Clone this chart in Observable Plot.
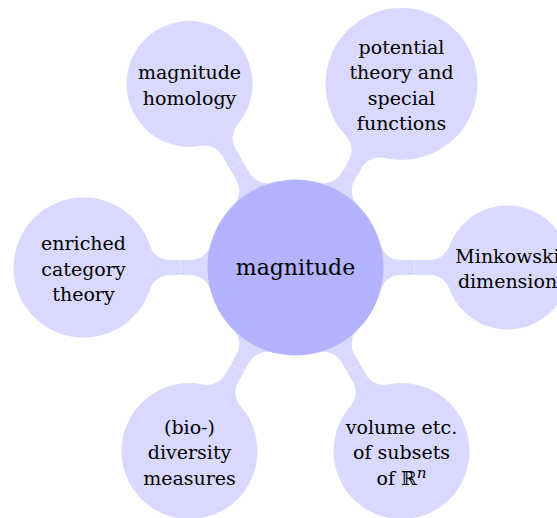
<!DOCTYPE html>
<html>
<head>
<meta charset="utf-8">
<script src="https://cdn.jsdelivr.net/npm/d3@7"></script>
<script src="https://cdn.jsdelivr.net/npm/@observablehq/plot@0.6"></script>
<style>
  html, body { margin: 0; padding: 0; background: #fff; }
  svg { display: block; }
</style>
</head>
<body>
<div id="chart"></div>
<script>
// ---- data ----
const rootLabel = "magnitude";
const childLabels = [
  "enriched\ncategory\ntheory",
  "magnitude\nhomology",
  "potential\ntheory and\nspecial\nfunctions",
  "Minkowski\ndimension",
  "volume etc.\nof subsets\nof ℝⁿ",
  "(bio-)\ndiversity\nmeasures"
];
const childAngles = [180, 120, 60, 0, -60, -120]; // degrees, counter-clockwise from east

// ---- layout (not data) ----
const W = 557, H = 518;
const layout = {cx: 295, cy: 267, dist: 212, rootR: 88,
  childR: [70, 63, 76, 62, 68, 68], barHalf: 7.5, fillet: 21};
const rootColor = "#b3b3ff";
const childColor = "#d9d9ff";

const root = {label: rootLabel, x: layout.cx, y: layout.cy, r: layout.rootR};
const children = childLabels.map((label, i) => {
  const a = childAngles[i] * Math.PI / 180;
  return {label, angle: a, i,
    x: layout.cx + layout.dist * Math.cos(a),
    y: layout.cy - layout.dist * Math.sin(a),
    r: layout.childR[i]};
});

// connector polygon between root and each child (concave fillets + bar)
function connector(ch) {
  const A = [root.x, root.y], B = [ch.x, ch.y];
  const D = Math.hypot(B[0] - A[0], B[1] - A[1]);
  const u = [(B[0] - A[0]) / D, (B[1] - A[1]) / D];
  const n = [-u[1], u[0]];
  const h = layout.barHalf, f = layout.fillet;
  const at = (s, o) => [A[0] + u[0] * s + n[0] * o, A[1] + u[1] * s + n[1] * o];
  function fillet(c, R, dir, side) {
    const s = Math.sqrt((R + f) ** 2 - (h + f) ** 2);
    const F = at(c + dir * s, side * (h + f));
    const C = at(c, 0);
    const P = [C[0] + (F[0] - C[0]) * R / (R + f), C[1] + (F[1] - C[1]) * R / (R + f)];
    const T = at(c + dir * s, side * h);
    let a0 = Math.atan2(P[1] - F[1], P[0] - F[0]);
    let a1 = Math.atan2(T[1] - F[1], T[0] - F[0]);
    let da = a1 - a0;
    while (da > Math.PI) da -= 2 * Math.PI;
    while (da < -Math.PI) da += 2 * Math.PI;
    const pts = [];
    for (let k = 0; k <= 16; k++) {
      const a = a0 + da * k / 16;
      pts.push([F[0] + f * Math.cos(a), F[1] + f * Math.sin(a)]);
    }
    return pts;
  }
  const top = [
    ...fillet(0, root.r, 1, 1),
    ...fillet(D, ch.r, -1, 1).reverse()
  ];
  const bottom = [
    ...fillet(D, ch.r, -1, -1),
    ...fillet(0, root.r, 1, -1).reverse()
  ];
  const poly = [A, ...top, B, ...bottom];
  const gapMid = (root.r + (D - ch.r)) / 2;
  const m1 = at(gapMid, h), m2 = at(gapMid, -h);
  return {poly: poly.map(([x, y]) => ({x, y, id: ch.i})), mid: {x1: m1[0], y1: m1[1], x2: m2[0], y2: m2[1]}};
}
const conns = children.map(connector);
const connPts = conns.flatMap(c => c.poly);
const mids = conns.map(c => c.mid);

const chart = Plot.plot({
  width: W, height: H,
  margin: 0,
  x: {domain: [0, W], range: [0, W], axis: null},
  y: {domain: [0, H], range: [0, H], axis: null},
  r: {type: "identity"},
  marks: [
    Plot.line(connPts, {x: "x", y: "y", z: "id", fill: childColor, stroke: "none", curve: "linear-closed"}),
    Plot.link(mids, {x1: "x1", y1: "y1", x2: "x2", y2: "y2", stroke: "white", strokeWidth: 0.8, strokeDasharray: "1.2,1.2", strokeOpacity: 0.9}),
    Plot.dot(children, {x: "x", y: "y", r: "r", fill: childColor}),
    Plot.dot([root], {x: "x", y: "y", r: "r", fill: rootColor}),
    Plot.text(children, {x: "x", y: "y", text: "label", fontFamily: "DejaVu Serif", fontSize: 19, lineHeight: 1.34, fill: "black"}),
    Plot.text([root], {x: "x", y: "y", text: "label", fontFamily: "DejaVu Serif", fontSize: 22, fill: "black"})
  ]
});

// render the superscript n of R^n as an italic raised glyph
d3.select(chart).selectAll("tspan").each(function () {
  const t = this.textContent;
  if (t.endsWith("ℝⁿ")) {
    this.textContent = t.slice(0, -1);
    d3.select(this).append("tspan")
      .attr("dy", "-0.45em")
      .attr("font-style", "italic")
      .attr("font-size", "0.8em")
      .text("n");
  }
});
document.getElementById("chart").appendChild(chart);
</script>
</body>
</html>
